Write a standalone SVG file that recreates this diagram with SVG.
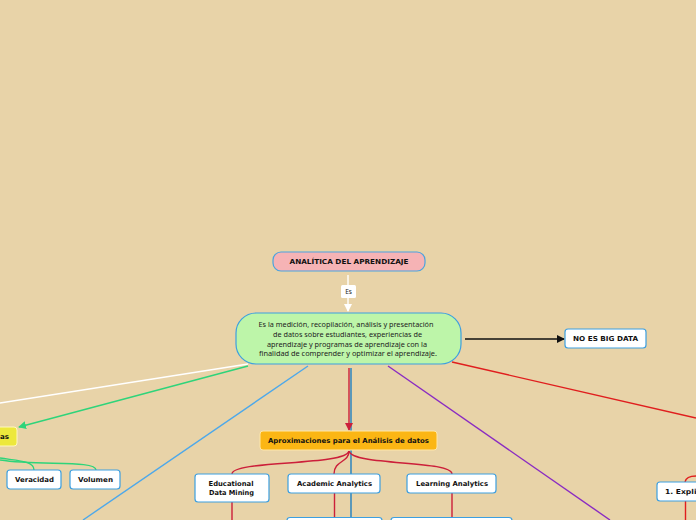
<svg xmlns="http://www.w3.org/2000/svg" width="696" height="520" viewBox="0 0 696 520">
<style>
.box{fill:#ffffff;stroke:#3d9fe0;stroke-width:1.2}
.lbl{font-family:"DejaVu Sans",Verdana,sans-serif;font-weight:bold;font-size:6.8px;fill:#111;text-anchor:middle;dominant-baseline:central}
.body{font-family:"Noto Sans","Open Sans",sans-serif;font-size:7.6px;fill:#222;text-anchor:middle;dominant-baseline:central}
.c{fill:none;stroke-width:1.4}
</style>
<defs>
<marker id="aw" markerWidth="8" markerHeight="8" refX="7" refY="4" orient="auto" markerUnits="userSpaceOnUse"><path d="M0,0 L8,4 L0,8 Z" fill="#ffffff"/></marker>
<marker id="ab" markerWidth="8" markerHeight="8" refX="7" refY="4" orient="auto" markerUnits="userSpaceOnUse"><path d="M0,0 L8,4 L0,8 Z" fill="#111"/></marker>
<marker id="ag" markerWidth="8" markerHeight="8" refX="7" refY="4" orient="auto" markerUnits="userSpaceOnUse"><path d="M0,0 L8,4 L0,8 Z" fill="#2ed47a"/></marker>
<marker id="ar" markerWidth="8" markerHeight="8" refX="7" refY="4" orient="auto" markerUnits="userSpaceOnUse"><path d="M0,0 L8,4 L0,8 Z" fill="#cc1f3a"/></marker>
</defs>
<rect width="696" height="520" fill="#e8d3a8"/>
<g id="connectors">
<line class="c" x1="348" y1="275" x2="348" y2="311" stroke="#ffffff" marker-end="url(#aw)"/>
<line class="c" x1="465" y1="339" x2="564" y2="339" stroke="#111" marker-end="url(#ab)"/>
<line class="c" x1="452" y1="362" x2="696" y2="418" stroke="#e01e1e"/>
<line class="c" x1="388" y1="366" x2="610" y2="520" stroke="#8a2bc2"/>
<line class="c" x1="308" y1="366" x2="83" y2="520" stroke="#4da8ea"/>
<line class="c" x1="248" y1="364" x2="0" y2="403" stroke="#ffffff"/>
<line class="c" x1="248" y1="366" x2="19" y2="427" stroke="#2ed47a" marker-end="url(#ag)"/>
<path class="c" d="M0,458 C20,461 34,461 34,470" stroke="#2ed47a"/>
<path class="c" d="M0,460 C40,466 96,460 96,470" stroke="#2ed47a"/>
<line class="c" x1="351" y1="368" x2="351" y2="517" stroke="#1f7fc0"/>
<line class="c" x1="349" y1="368" x2="349" y2="430" stroke="#cc1f3a" marker-end="url(#ar)"/>
<path class="c" d="M349,451 C346,466 232,460 232,474" stroke="#cc1f3a"/>
<path class="c" d="M349,451 C349,463 334,460 334,474" stroke="#cc1f3a"/>
<path class="c" d="M349,451 C352,466 452,460 452,474" stroke="#cc1f3a"/>
<line class="c" x1="232" y1="502" x2="232" y2="520" stroke="#cc1f3a"/>
<line class="c" x1="334.5" y1="493" x2="334.5" y2="517" stroke="#cc1f3a"/>
<line class="c" x1="452" y1="493" x2="452" y2="517" stroke="#cc1f3a"/>
<path class="c" d="M685,482 C686,477 692,476 696,476" stroke="#e01e1e"/>
<line class="c" x1="685.5" y1="501" x2="685.5" y2="520" stroke="#e01e1e"/>
</g>
<g id="label-es">
<rect x="341" y="285" width="15" height="13" rx="1.5" fill="#ffffff"/>
<text x="348.5" y="291.5" style="font-family:'Noto Sans',sans-serif;font-size:6.5px;fill:#222;text-anchor:middle;dominant-baseline:central">Es</text>
</g>
<g id="node-analitica">
<rect x="273" y="252" width="152" height="19" rx="8" fill="#f6b3b5" stroke="#4aa3df" stroke-width="1.2"/>
<text class="lbl" x="349" y="261.5" textLength="119" lengthAdjust="spacingAndGlyphs">ANALÍTICA DEL APRENDIZAJE</text>
</g>
<g id="node-main">
<rect x="236" y="313" width="225" height="51" rx="20" fill="#bdf5a9" stroke="#3d9fe0" stroke-width="1.2"/>
<text class="body" x="346" y="324" textLength="175" lengthAdjust="spacingAndGlyphs">Es la medición, recopilación, análisis y presentación</text>
<text class="body" x="347.5" y="334" textLength="149" lengthAdjust="spacingAndGlyphs">de datos sobre estudiantes, experiencias de</text>
<text class="body" x="347" y="344" textLength="160" lengthAdjust="spacingAndGlyphs">aprendizaje y programas de aprendizaje con la</text>
<text class="body" x="348" y="353" textLength="178" lengthAdjust="spacingAndGlyphs">finalidad de comprender y optimizar el aprendizaje.</text>
</g>
<g id="node-bigdata">
<rect class="box" x="565" y="329" width="81" height="19" rx="3"/>
<text class="lbl" x="605.5" y="339" textLength="65" lengthAdjust="spacingAndGlyphs">NO ES BIG DATA</text>
</g>
<g id="node-caracteristicas">
<rect x="-10" y="427" width="27" height="19" rx="3" fill="#ede83c" stroke="#fff7c0" stroke-width="1"/>
<text class="lbl" x="4.5" y="437" textLength="9" lengthAdjust="spacingAndGlyphs">as</text>
</g>
<g id="node-veracidad">
<rect class="box" x="7" y="470" width="54" height="19" rx="3"/>
<text class="lbl" x="34.5" y="480" textLength="39" lengthAdjust="spacingAndGlyphs">Veracidad</text>
</g>
<g id="node-volumen">
<rect class="box" x="70" y="470" width="50" height="19" rx="3"/>
<text class="lbl" x="95.5" y="480" textLength="35" lengthAdjust="spacingAndGlyphs">Volumen</text>
</g>
<g id="node-aprox">
<rect x="260" y="431" width="177" height="19" rx="3" fill="#fbb614" stroke="#ffe7a8" stroke-width="1"/>
<text class="lbl" x="348.5" y="440.5" textLength="161" lengthAdjust="spacingAndGlyphs">Aproximaciones para el Análisis de datos</text>
</g>
<g id="node-edm">
<rect class="box" x="195" y="474" width="74" height="28" rx="3"/>
<text class="lbl" x="231" y="484" textLength="45" lengthAdjust="spacingAndGlyphs">Educational</text>
<text class="lbl" x="231.5" y="492.5" textLength="45" lengthAdjust="spacingAndGlyphs">Data Mining</text>
</g>
<g id="node-academic">
<rect class="box" x="288" y="474" width="92" height="19" rx="3"/>
<text class="lbl" x="334.5" y="484" textLength="75" lengthAdjust="spacingAndGlyphs">Academic Analytics</text>
</g>
<g id="node-learning">
<rect class="box" x="407" y="474" width="89" height="19" rx="3"/>
<text class="lbl" x="452" y="484" textLength="72" lengthAdjust="spacingAndGlyphs">Learning Analytics</text>
</g>
<g id="node-bottom1">
<rect class="box" x="287" y="517.5" width="95" height="19" rx="3"/>
</g>
<g id="node-bottom2">
<rect class="box" x="391" y="517.5" width="121" height="19" rx="3"/>
</g>
<g id="node-explic">
<rect class="box" x="657" y="482" width="60" height="19" rx="3"/>
<text class="lbl" x="665" y="492" style="text-anchor:start" textLength="36" lengthAdjust="spacingAndGlyphs">1. Explic</text>
</g>
</svg>
